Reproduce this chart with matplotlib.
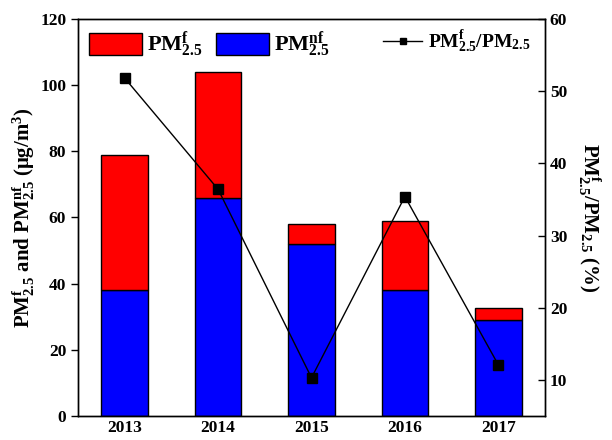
import matplotlib
matplotlib.use("Agg")
import matplotlib.pyplot as plt
import numpy as np

# Annual PM2.5 split into fire-related (f) and non-fire (nf) parts
years = ["2013", "2014", "2015", "2016", "2017"]
pm_nf = [38, 66, 52, 38, 29]
pm_f = [41, 38, 6, 21, 3.5]
ratio_f = [51.8, 36.4, 10.3, 35.4, 12.1]   # PMf / PM2.5 in %

plt.rcParams["font.family"] = "Liberation Serif"
plt.rcParams["font.weight"] = "bold"
plt.rcParams["axes.labelweight"] = "bold"
plt.rcParams["mathtext.fontset"] = "custom"
plt.rcParams["mathtext.rm"] = "Liberation Serif:bold"
plt.rcParams["mathtext.it"] = "Liberation Serif:bold"
plt.rcParams["mathtext.bf"] = "Liberation Serif:bold"

fig = plt.figure(figsize=(6.12, 4.4), dpi=100)
ax = fig.add_axes([0.1275, 0.0545, 0.763, 0.9025])

x = np.arange(len(years))
b1 = ax.bar(x, pm_nf, width=0.5, color="#0000ff", edgecolor="black", linewidth=1.0)
b2 = ax.bar(x, pm_f, width=0.5, bottom=pm_nf, color="#ff0000", edgecolor="black", linewidth=1.0)

ax.set_xlim(-0.5, 4.5)
ax.set_ylim(0, 120)
ax.set_yticks(np.arange(0, 121, 20))
ax.set_xticks(x)
ax.set_xticklabels(years)
ax.tick_params(axis="x", length=0, pad=3, labelsize=12.5)
ax.tick_params(axis="y", direction="out", length=5, width=1, labelsize=12.5)
ax.set_ylabel(r"PM$_{2.5}^{f}$ and PM$_{2.5}^{nf}$ ($\mu$g/m$^{3}$)", fontsize=15, labelpad=2)

ax2 = ax.twinx()
line, = ax2.plot(x, ratio_f, color="black", linewidth=1.0, marker="s", markersize=6.5)
ax2.set_ylim(5, 60)
ax2.set_yticks(np.arange(10, 61, 10))
ax2.tick_params(axis="y", direction="in", length=5, width=1, labelsize=12.5)
ax2.set_ylabel(r"PM$_{2.5}^{f}$/PM$_{2.5}$ (%)", fontsize=15, rotation=270, labelpad=26)

for a in (ax, ax2):
    for s in a.spines.values():
        s.set_linewidth(1.0)

leg1 = ax.legend([b2, b1], [r"PM$_{2.5}^{f}$", r"PM$_{2.5}^{nf}$"], ncol=2, loc="upper left",
                 frameon=False, fontsize=16, handlelength=2.4, handleheight=1.15,
                 handletextpad=0.2, columnspacing=0.6, borderaxespad=0.1,
                 bbox_to_anchor=(0.0, 1.0))
ax2.legend([line], [r"PM$_{2.5}^{f}$/PM$_{2.5}$"], loc="upper right", frameon=False,
           fontsize=14, handlelength=2.0, handletextpad=0.3, markerscale=0.7,
           borderaxespad=0.1, bbox_to_anchor=(0.99, 1.0))

fig.savefig("out.png", dpi=100)
